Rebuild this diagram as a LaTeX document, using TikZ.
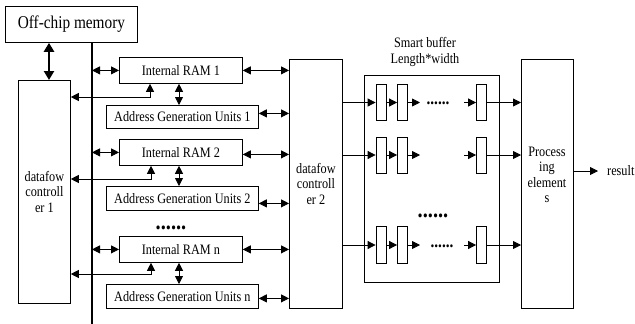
\documentclass[tikz,border=0pt]{standalone}
\usepackage{fontspec}
\setmainfont{Liberation Serif}[FakeStretch=0.85]
\usetikzlibrary{arrows.meta}
\tikzset{
  box/.style={draw, line width=0.8pt, inner sep=0pt, anchor=north west,
    font=\fontsize{14.4}{15.5}\selectfont, align=center},
  cell/.style={draw, line width=0.8pt, inner sep=0pt, minimum width=10pt, minimum height=36pt},
  arr/.style={line width=0.8pt, -{Triangle[length=8pt,width=8pt]}},
  dbl/.style={line width=0.8pt, {Triangle[length=8pt,width=8pt]}-{Triangle[length=8pt,width=8pt]}},
  bus/.style={line width=2pt},
  wide/.style={line width=2.6pt, {Triangle[length=9pt,width=10pt]}-{Triangle[length=9pt,width=10pt]}},
  lbl/.style={font=\fontsize{14.4}{15.5}\selectfont, align=center, inner sep=0pt},
  bigdots/.style={font=\bfseries\fontsize{24}{24}\selectfont, inner sep=0pt},
  smalldots/.style={font=\bfseries\fontsize{18}{18}\selectfont, inner sep=0pt},
}
\begin{document}
\begin{tikzpicture}[x=1pt,y=-1pt]
\useasboundingbox (0,0) rectangle (635,324);
\fill[white] (0,0) rectangle (635,324);

% memory side
\node[box, minimum width=132pt, minimum height=36pt, font=\fontsize{18}{20}\selectfont] (off) at (5,6) {Off-chip memory};
\node[box, minimum width=52pt, minimum height=223pt] (dc1) at (18,80) {datafow\\controll\\er 1};

\node[box, minimum width=123pt, minimum height=26pt] (ram1) at (119,57) {Internal RAM 1};
\node[box, minimum width=152pt, minimum height=23pt] (agu1) at (106,105) {Address Generation Units 1};
\node[box, minimum width=123pt, minimum height=26pt] (ram2) at (119,139) {Internal RAM 2};
\node[box, minimum width=152pt, minimum height=24pt] (agu2) at (106,186) {Address Generation Units 2};
\node[bigdots, anchor=base] (vdots) at (171,229) {......};
\node[box, minimum width=123pt, minimum height=26pt] (ramn) at (119,236) {Internal RAM n};
\node[box, minimum width=152pt, minimum height=24pt] (agun) at (106,284) {Address Generation Units n};

% second controller, smart buffer, processing elements
\node[box, minimum width=53pt, minimum height=249pt] (dc2) at (289,59) {datafow\\controll\\er 2};
\node[box, minimum width=135pt, minimum height=207pt] (sb) at (364,75) {};
\node[lbl] (sbtitle) at (425,52) {Smart buffer\\Length*width};
\node[box, minimum width=52pt, minimum height=249pt] (pe) at (521,59) {};
\node[lbl] (petext) at (547,175) {Process\\ing\\element\\s};
\node[lbl, anchor=west, inner xsep=9pt] (res) at (598,171) {result};

% buffer cells
\node[cell] (a1) at (381,102.5) {};
\node[cell] (a2) at (402.5,102.5) {};
\node[cell] (a3) at (481.5,102.5) {};
\node[cell] (b1) at (381,155) {};
\node[cell] (b2) at (402.5,155) {};
\node[cell] (b3) at (481.5,155) {};
\node[cell, minimum height=37pt] (c1) at (381,245) {};
\node[cell, minimum height=37pt] (c2) at (402.5,245) {};
\node[cell, minimum height=37pt] (c3) at (481.5,245) {};
\coordinate (a2e) at (420,102.5);
\coordinate (a3s) at (464,102.5);
\coordinate (b2e) at (420,155);
\coordinate (b3s) at (464,155);
\coordinate (c2e) at (420,245);
\coordinate (c3s) at (464,245);
\node[smalldots, anchor=base] (adots) at (438,104.5) {......};
\node[smalldots, anchor=base] (cdots) at (442,247) {......};
\node[bigdots, anchor=base] (mdots) at (433,217) {......};

% bus and memory link
\coordinate (busend) at (92,324);
\draw[bus] (off.south -| busend) -- (busend);
\coordinate (wx) at (49,0);
\draw[wide] (off.south -| wx) -- (dc1.north -| wx);

% bus to RAMs
\draw[dbl] (ram1.west -| busend) -- (ram1.west);
\draw[dbl] (ram2.west -| busend) -- (ram2.west);
\draw[dbl] (ramn.west -| busend) -- (ramn.west);

% RAM to address units
\coordinate (vx) at (179,0);
\draw[dbl] (ram1.south -| vx) -- (agu1.north -| vx);
\draw[dbl] (ram2.south -| vx) -- (agu2.north -| vx);
\draw[dbl] (ramn.south -| vx) -- (agun.north -| vx);

% RAM to first controller
\coordinate (f1) at (150,97);
\coordinate (f2) at (151,179);
\coordinate (fn) at (151,274);
\draw[dbl] (dc1.east |- f1) -| (ram1.south -| f1);
\draw[dbl] (dc1.east |- f2) -| (ram2.south -| f2);
\draw[dbl] (dc1.east |- fn) -| (ramn.south -| fn);

% RAMs and address units to second controller
\draw[dbl] (ram1.east) -- (ram1.east -| dc2.west);
\draw[dbl] ([yshift=-2pt]ram2.east) -- ([yshift=-2pt]ram2.east -| dc2.west);
\draw[dbl] (ramn.east) -- (ramn.east -| dc2.west);
\draw[dbl] ([yshift=3.5pt]agu1.east) -- ([yshift=3.5pt]agu1.east -| dc2.west);
\draw[dbl] ([yshift=-5pt]agu2.east) -- ([yshift=-5pt]agu2.east -| dc2.west);
\draw[dbl] ([yshift=-2pt]agun.east) -- ([yshift=-2pt]agun.east -| dc2.west);

% buffer rows
\draw[arr] (a1.west -| dc2.east) -- (a1.west);
\draw[arr] (a1.east) -- (a2.west);
\draw[arr] (a2.east) -- (a2e);
\draw[arr] (a3s) -- (a3.west);
\draw[arr] (a3.east) -- (a3.east -| pe.west);

\draw[arr] (b1.west -| dc2.east) -- (b1.west);
\draw[arr] (b1.east) -- (b2.west);
\draw[arr] (b2.east) -- (b2e);
\draw[arr] (b3s) -- (b3.west);
\draw[arr] (b3.east) -- (b3.east -| pe.west);

\draw[arr] (c1.west -| dc2.east) -- (c1.west);
\draw[arr] (c1.east) -- (c2.west);
\draw[arr] (c2.east) -- (c2e);
\draw[arr] (c3s) -- (c3.west);
\draw[arr] (c3.east) -- (c3.east -| pe.west);

% output
\draw[arr] (res.west -| pe.east) -- (res.west);
\end{tikzpicture}
\end{document}
